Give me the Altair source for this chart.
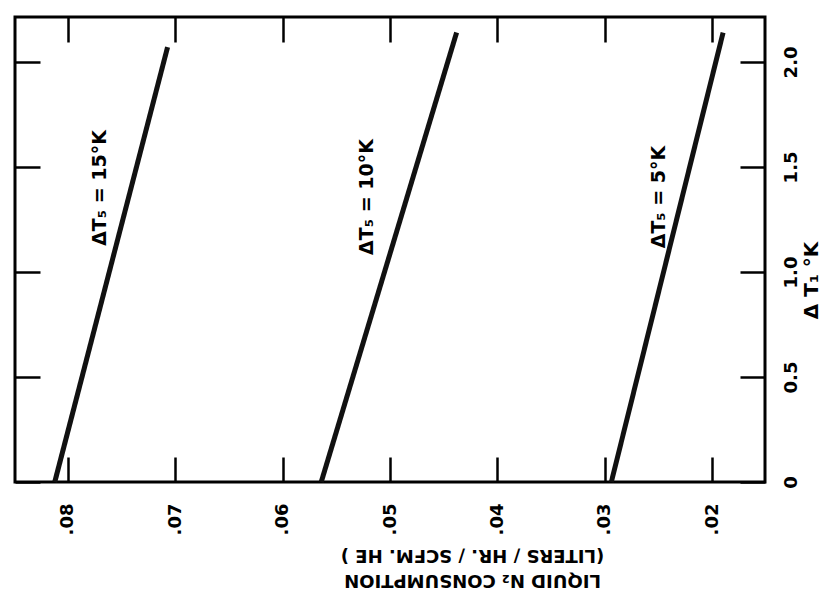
import altair as alt
import pandas as pd

# Liquid N2 consumption (liters / hr / SCFM He) vs delta T1 (K), one line per delta T5
series = ["15", "10", "5"]
dt1_start = [0.0, 0.0, 0.0]
dt1_end = [2.07, 2.14, 2.14]
cons_start = [0.0812, 0.0564, 0.0294]
cons_end = [0.0707, 0.0438, 0.0190]

label_text = ["ΔT₅  =  15°K", "ΔT₅  =  10°K", "ΔT₅  =  5°K"]
label_cons = [0.0770, 0.0521, 0.0250]
label_dt1 = [1.40, 1.357, 1.357]

x_ticks = [0.02, 0.03, 0.04, 0.05, 0.06, 0.07, 0.08]
y_ticks = [0.0, 0.5, 1.0, 1.5, 2.0]
x_domain = [0.0151, 0.0849]
y_domain = [0.0, 2.214]

rows = []
for s, a0, a1, c0, c1 in zip(series, dt1_start, dt1_end, cons_start, cons_end):
    rows.append({"series": s, "dt1": a0, "cons": c0, "order": 0})
    rows.append({"series": s, "dt1": a1, "cons": c1, "order": 1})
lines_df = pd.DataFrame(rows)
labels_df = pd.DataFrame({"text": label_text, "cons": label_cons, "dt1": label_dt1})

FONT = "DejaVu Sans"
xs = alt.Scale(domain=x_domain, reverse=True, nice=False, zero=False)
ys = alt.Scale(domain=y_domain, nice=False, zero=False)

tick_common = dict(ticks=True, tickSize=25, tickWidth=2.5, tickColor="black",
                   offset=-25, domain=False, grid=False)

main = alt.Chart(lines_df).mark_line(color="#111111", strokeWidth=5).encode(
    x=alt.X("cons:Q", scale=xs, axis=alt.Axis(
        orient="bottom", values=x_ticks, labels=True,
        labelExpr="replace(format(datum.value, '.2f'), '0.', '.')",
        labelAngle=-90, labelAlign="right", labelBaseline="middle",
        labelPadding=21, labelFont=FONT, labelFontSize=18, labelFontWeight="bold",
        labelColor="black",
        title=["LIQUID   N₂   CONSUMPTION", "(LITERS / HR. / SCFM. HE )"],
        titleAngle=180, titleX=457, titleY=122, titleAlign="center",
        titleBaseline="middle", titleLineHeight=25, titleFont=FONT,
        titleFontSize=18, titleFontWeight="bold", titleColor="black",
        **tick_common)),
    y=alt.Y("dt1:Q", scale=ys, axis=alt.Axis(
        orient="right", values=y_ticks, labels=True,
        labelExpr="datum.value == 0 ? '0' : format(datum.value, '.1f')",
        labelAngle=-90, labelAlign="center", labelBaseline="top",
        labelPadding=17, labelFont=FONT, labelFontSize=18, labelFontWeight="bold",
        labelColor="black",
        title="Δ T₁ °K", titleAngle=-90, titleX=71, titleY=263,
        titleAlign="center", titleBaseline="middle", titleFont=FONT,
        titleFontSize=20, titleFontWeight="bold", titleColor="black",
        **tick_common)),
    detail="series:N",
    order="order:Q",
)

frame_ticks = alt.Chart(lines_df).mark_line(opacity=0).encode(
    x=alt.X("cons:Q", scale=xs, axis=alt.Axis(
        orient="top", values=x_ticks, labels=False, title=None, **tick_common)),
    y=alt.Y("dt1:Q", scale=ys, axis=alt.Axis(
        orient="left", values=y_ticks, labels=False, title=None, **tick_common)),
    detail="series:N",
)

labels = alt.Chart(labels_df).mark_text(
    angle=270, align="center", baseline="middle", font=FONT,
    fontSize=19, fontWeight="bold", color="black"
).encode(
    x=alt.X("cons:Q", scale=xs, axis=None),
    y=alt.Y("dt1:Q", scale=ys, axis=None),
    text="text:N",
)

chart = alt.layer(main, frame_ticks, labels).resolve_axis(
    x="independent", y="independent"
).properties(
    width=750, height=465,
    autosize=alt.AutoSizeParams(type="none"),
    padding={"left": 7, "top": 9, "right": 62, "bottom": 114},
    background="white",
).configure_view(stroke="black", strokeWidth=3)

chart.save("out.html", embed_options={"renderer": "svg", "actions": False})
